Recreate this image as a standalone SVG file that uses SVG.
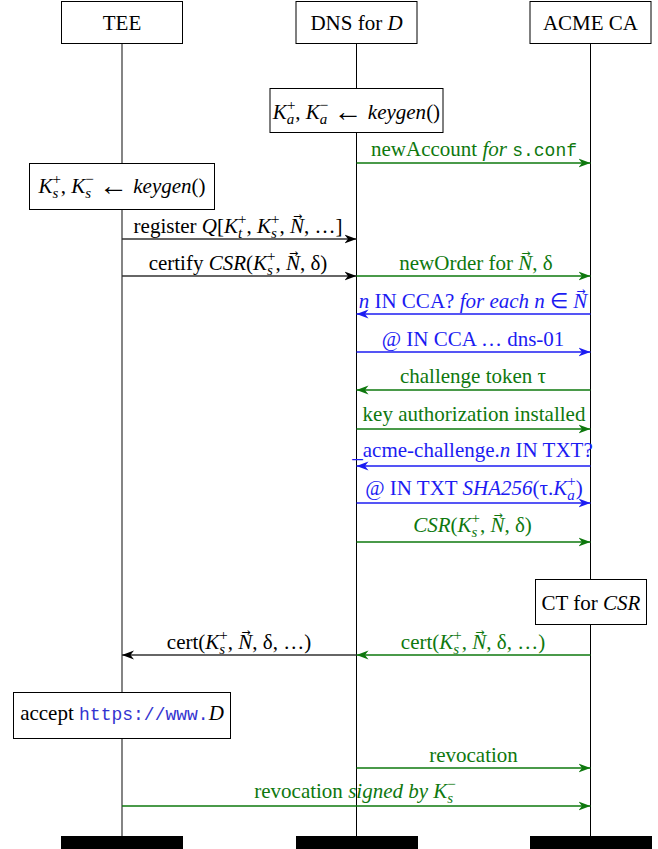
<svg xmlns="http://www.w3.org/2000/svg" width="658" height="849" viewBox="0 0 658 849">
<defs>
<style>
text{font-family:"Liberation Serif","Times New Roman",serif;font-size:21px;text-anchor:middle;fill:#000}
.i{font-style:italic}
.s{font-size:15px}
.v{font-family:"DejaVu Sans",sans-serif;font-size:11px;font-style:normal}
.ar{font-size:29px}
.m{font-family:"Liberation Mono","Courier New",monospace;font-size:18px}
.g{fill:#0e780e}
.b{fill:#1c1cf2}
.u{fill:#3434d0}
.box{fill:#fff;stroke:#000;stroke-width:1}
.life{stroke:#000;stroke-width:1;fill:none}
.ag{stroke:#0e780e;stroke-width:1.3;fill:none}
.ab{stroke:#1c1cf2;stroke-width:1.3;fill:none}
.ak{stroke:#333;stroke-width:1.3;fill:none}
</style>
<marker id="hk" markerUnits="userSpaceOnUse" markerWidth="13" markerHeight="10" refX="12" refY="5" orient="auto" viewBox="0 0 13 10"><path d="M12,5 L0,0.5 L3.5,5 L0,9.5 Z" fill="#000"/></marker>
<marker id="hg" markerUnits="userSpaceOnUse" markerWidth="13" markerHeight="10" refX="12" refY="5" orient="auto" viewBox="0 0 13 10"><path d="M12,5 L0,0.5 L3.5,5 L0,9.5 Z" fill="#0e780e"/></marker>
<marker id="hb" markerUnits="userSpaceOnUse" markerWidth="13" markerHeight="10" refX="12" refY="5" orient="auto" viewBox="0 0 13 10"><path d="M12,5 L0,0.5 L3.5,5 L0,9.5 Z" fill="#1c1cf2"/></marker>
</defs>
<rect width="658" height="849" fill="#fff"/>

<g id="lifelines">
<line x1="122" y1="43" x2="122" y2="836" stroke="#333" stroke-width="1.2"/>
<line class="life" x1="356.5" y1="43" x2="356.5" y2="836"/>
<line class="life" x1="590.5" y1="43" x2="590.5" y2="836"/>
</g>

<g id="tee">
<rect class="box" x="61.5" y="1.5" width="121" height="42"/>
<text x="122" y="29.5">TEE</text>
<rect x="61" y="836" width="122" height="13" fill="#000"/>
</g>
<g id="dns">
<rect class="box" x="296" y="1.5" width="121" height="42"/>
<text x="356.5" y="29.5">DNS for <tspan class="i">D</tspan></text>
<rect x="296" y="836" width="122" height="13" fill="#000"/>
</g>
<g id="acme">
<rect class="box" x="530" y="1.5" width="121" height="42"/>
<text x="590.5" y="29.5">ACME CA</text>
<rect x="530" y="836" width="122" height="13" fill="#000"/>
</g>

<g id="keygen-a">
<rect class="box" x="270" y="88.5" width="173" height="44"/>
<text x="356.5" y="119"><tspan class="i">K</tspan><tspan class="s" dy="-9">+</tspan><tspan class="s i" dx="-8.5" dy="14">a</tspan><tspan dx="1" dy="-5">, </tspan><tspan class="i">K</tspan><tspan class="s" dy="-9">−</tspan><tspan class="s i" dx="-8.5" dy="14">a</tspan><tspan dx="1" dy="-5"> </tspan><tspan class="ar" dy="2">←</tspan><tspan dy="-2"> </tspan><tspan class="i">keygen</tspan>()</text>
</g>

<g id="keygen-s">
<rect class="box" x="29.5" y="163.5" width="185" height="46"/>
<text x="122" y="193"><tspan class="i">K</tspan><tspan class="s" dy="-9">+</tspan><tspan class="s i" dx="-8.5" dy="14">s</tspan><tspan dx="2.6" dy="-5">, </tspan><tspan class="i">K</tspan><tspan class="s" dy="-9">−</tspan><tspan class="s i" dx="-8.5" dy="14">s</tspan><tspan dx="2.6" dy="-5"> </tspan><tspan class="ar" dy="2">←</tspan><tspan dy="-2"> </tspan><tspan class="i">keygen</tspan>()</text>
</g>

<g id="ct">
<rect class="box" x="535.5" y="579.5" width="111" height="45"/>
<text x="591" y="609.5">CT for <tspan class="i">CSR</tspan></text>
</g>

<g id="accept">
<rect class="box" x="13.5" y="692.5" width="217" height="46"/>
<text x="122" y="720">accept <tspan class="m u">https://www.</tspan><tspan class="i">D</tspan></text>
</g>

<g id="connectors">
<line class="ag" x1="356.5" y1="163" x2="590.5" y2="163" marker-end="url(#hg)"/>
<text class="g" x="474" y="156">newAccount <tspan class="i">for</tspan> <tspan class="m">s.conf</tspan></text>

<line class="ak" x1="122" y1="239" x2="356.5" y2="239" marker-end="url(#hk)"/>
<text x="238" y="233">register <tspan class="i">Q</tspan>[<tspan class="i">K</tspan><tspan class="s" dy="-9">+</tspan><tspan class="s i" dx="-8.5" dy="14">t</tspan><tspan dx="4.3" dy="-5">, </tspan><tspan class="i">K</tspan><tspan class="s" dy="-9">+</tspan><tspan class="s i" dx="-8.5" dy="14">s</tspan><tspan dx="2.6" dy="-5">, </tspan><tspan class="i">N</tspan><tspan class="v" dx="-11" dy="-13">→</tspan><tspan dx="1.8" dy="13">, …]</tspan></text>

<line class="ak" x1="122" y1="276" x2="356.5" y2="276" marker-end="url(#hk)"/>
<text x="238" y="270">certify <tspan class="i">CSR</tspan>(<tspan class="i">K</tspan><tspan class="s" dy="-9">+</tspan><tspan class="s i" dx="-8.5" dy="14">s</tspan><tspan dx="2.6" dy="-5">, </tspan><tspan class="i">N</tspan><tspan class="v" dx="-11" dy="-13">→</tspan><tspan dx="1.8" dy="13">, δ)</tspan></text>

<line class="ag" x1="356.5" y1="276" x2="590.5" y2="276" marker-end="url(#hg)"/>
<text class="g" x="476" y="270">newOrder for <tspan class="i">N</tspan><tspan class="v" dx="-11" dy="-13">→</tspan><tspan dx="1.8" dy="13">, δ</tspan></text>

<line class="ab" x1="590.5" y1="314" x2="356.5" y2="314" marker-end="url(#hb)"/>
<text class="b" x="473" y="308"><tspan class="i">n</tspan> IN CCA? <tspan class="i">for each n</tspan> ∈ <tspan class="i">N</tspan><tspan class="v" dx="-11" dy="-13">→</tspan></text>

<line class="ab" x1="356.5" y1="352" x2="590.5" y2="352" marker-end="url(#hb)"/>
<text class="b" x="473" y="346">@ IN CCA … dns-01</text>

<line class="ag" x1="590.5" y1="390" x2="356.5" y2="390" marker-end="url(#hg)"/>
<text class="g" x="473" y="383">challenge token τ</text>

<line class="ag" x1="356.5" y1="429" x2="590.5" y2="429" marker-end="url(#hg)"/>
<text class="g" x="474" y="421">key authorization installed</text>

<line class="ab" x1="590.5" y1="466" x2="356.5" y2="466" marker-end="url(#hb)"/>
<text class="b" x="472.5" y="457">_acme-challenge.<tspan class="i">n</tspan> IN TXT?</text>

<line class="ab" x1="356.5" y1="503" x2="590.5" y2="503" marker-end="url(#hb)"/>
<text class="b" x="474" y="495">@ IN TXT <tspan class="i">SHA256</tspan>(τ.<tspan class="i">K</tspan><tspan class="s" dy="-9">+</tspan><tspan class="s i" dx="-8.5" dy="14">a</tspan><tspan dx="1" dy="-5">)</tspan></text>

<line class="ag" x1="356.5" y1="542" x2="590.5" y2="542" marker-end="url(#hg)"/>
<text class="g" x="472.5" y="532"><tspan class="i">CSR</tspan>(<tspan class="i">K</tspan><tspan class="s" dy="-9">+</tspan><tspan class="s i" dx="-8.5" dy="14">s</tspan><tspan dx="2.6" dy="-5">, </tspan><tspan class="i">N</tspan><tspan class="v" dx="-11" dy="-13">→</tspan><tspan dx="1.8" dy="13">, δ)</tspan></text>

<line class="ag" x1="590.5" y1="655" x2="356.5" y2="655" marker-end="url(#hg)"/>
<text class="g" x="473" y="649">cert(<tspan class="i">K</tspan><tspan class="s" dy="-9">+</tspan><tspan class="s i" dx="-8.5" dy="14">s</tspan><tspan dx="2.6" dy="-5">, </tspan><tspan class="i">N</tspan><tspan class="v" dx="-11" dy="-13">→</tspan><tspan dx="1.8" dy="13">, δ, …)</tspan></text>

<line class="ak" x1="356.5" y1="655" x2="122" y2="655" marker-end="url(#hk)"/>
<text x="239" y="649">cert(<tspan class="i">K</tspan><tspan class="s" dy="-9">+</tspan><tspan class="s i" dx="-8.5" dy="14">s</tspan><tspan dx="2.6" dy="-5">, </tspan><tspan class="i">N</tspan><tspan class="v" dx="-11" dy="-13">→</tspan><tspan dx="1.8" dy="13">, δ, …)</tspan></text>

<line class="ag" x1="356.5" y1="768" x2="590.5" y2="768" marker-end="url(#hg)"/>
<text class="g" x="473.5" y="762">revocation</text>

<line class="ag" x1="122" y1="806" x2="590.5" y2="806" marker-end="url(#hg)"/>
<text class="g" x="355" y="798">revocation <tspan class="i">signed by K</tspan><tspan class="s" dy="-9">−</tspan><tspan class="s i" dx="-8.5" dy="14">s</tspan></text>
</g>
</svg>
